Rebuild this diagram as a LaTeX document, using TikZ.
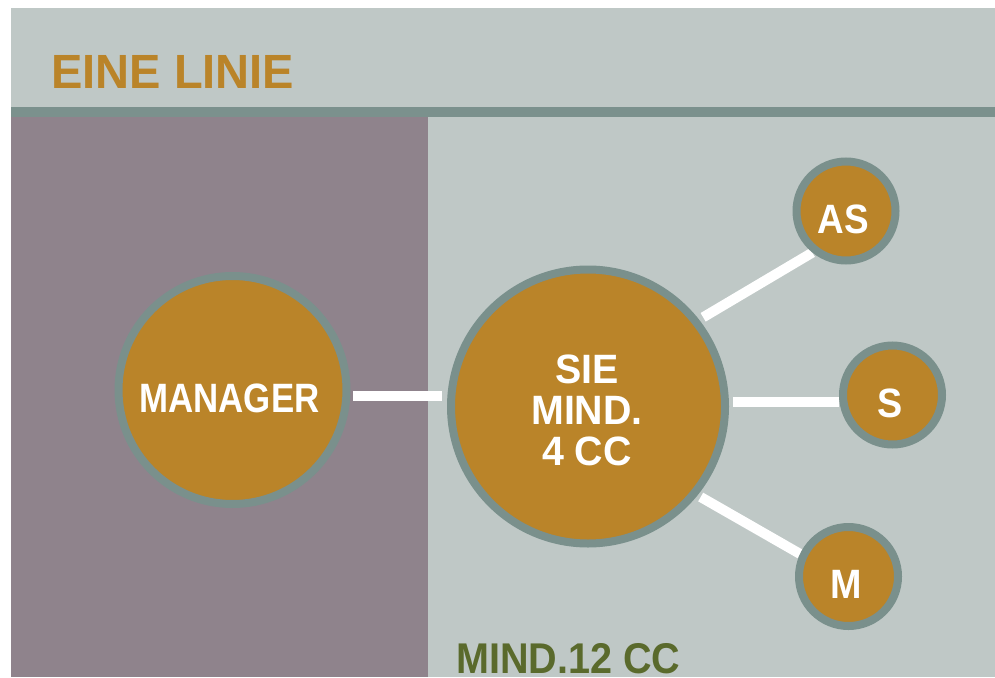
\documentclass[tikz,border=0pt]{standalone}
\usepackage{fontspec}
\setmainfont{Liberation Sans}
\usetikzlibrary{shadows}
\definecolor{bandc}{HTML}{BFC8C6}
\definecolor{stripec}{HTML}{7B918D}
\definecolor{leftc}{HTML}{8F838C}
\definecolor{orangec}{HTML}{BA8429}
\definecolor{rimc}{HTML}{7A908C}
\definecolor{greenc}{HTML}{5A6A2C}
\pgfdeclarelayer{bg}
\pgfdeclarelayer{lines}
\pgfsetlayers{bg,lines,main}
\begin{document}
\begin{tikzpicture}[x=1pt,y=-1pt,
  bubble/.style={circle, fill=orangec, draw=rimc, line width=8pt, inner sep=0pt,
    drop shadow={shadow xshift=1.5pt, shadow yshift=-3pt, opacity=0.22, fill=black}},
  conn/.style={draw=white, line width=10pt},
  ctext/.style={text=white, font=\bfseries\fontsize{41}{41}\selectfont, align=center, inner sep=0pt},
  ]
\useasboundingbox (0,0) rectangle (995,677);
\begin{pgfonlayer}{bg}
  \fill[white] (0,0) rectangle (995,677);
  \fill[bandc] (11,8) rectangle (995,107);
  \fill[stripec] (11,107) rectangle (995,117);
  \fill[leftc] (11,117) rectangle (428,677);
  \fill[bandc] (428,117) rectangle (995,677);
\end{pgfonlayer}

% title and bottom label
\node[anchor=base west, inner sep=0pt, text=orangec, font=\bfseries\fontsize{48}{48}\selectfont] (title) at (51,88) {\scalebox{0.98}[1]{EINE LINIE}};
\node[anchor=base west, inner sep=0pt, text=greenc, font=\bfseries\fontsize{43}{43}\selectfont] (foot) at (456,673) {\scalebox{0.92}[1]{MIND.12 CC}};

% circles
\node[bubble, minimum size=228pt] (mgr) at (232.5,390) {};
\node[bubble, minimum size=274pt] (big) at (588,406.5) {};
\node[bubble, minimum size=99pt] (as) at (846,211) {};
\node[bubble, minimum size=99pt] (s) at (892.5,395) {};
\node[bubble, minimum size=99pt] (m) at (848.5,576.5) {};

% circle texts
\node[ctext] (mgrt) at (229.5,398.5) {\scalebox{0.85}[1]{MANAGER}};
\node[ctext] (bigt) at (587,410.5) {\scalebox{0.96}[1]{SIE}\\\scalebox{0.96}[1]{MIND.}\\\scalebox{0.96}[1]{4 CC}};
\node[ctext] (ast) at (843.5,219) {\scalebox{0.9}[1]{AS}};
\node[ctext] (st) at (890.5,403) {\scalebox{0.92}[1]{S}};
\node[ctext] (mt) at (846.5,584.5) {\scalebox{0.92}[1]{M}};

% connectors
\begin{pgfonlayer}{lines}
  \draw[conn, shorten <=2.5pt, shorten >=5pt] (mgr.-3.9) -- (mgr.-3.9 -| big.west);
  \draw[conn, shorten <=4pt] (big.2.6) -- (big.2.6 -| s.west);
  \draw[conn, shorten <=4.7pt] (big.38.1) -- (as.231);
  \draw[conn, shorten <=3.6pt] (big.-39.5) -- (m.155.2);
\end{pgfonlayer}
\end{tikzpicture}
\end{document}
